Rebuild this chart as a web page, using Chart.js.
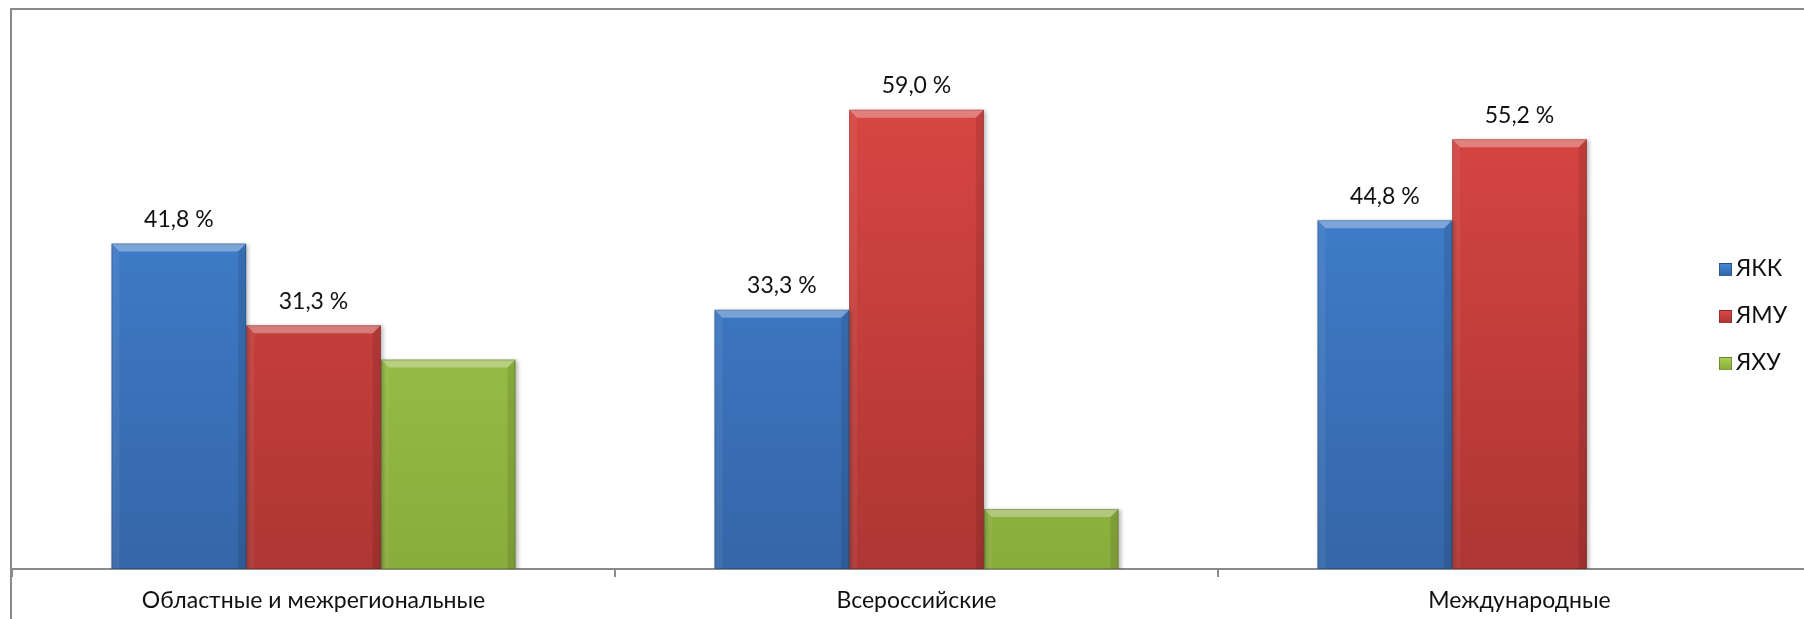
<!DOCTYPE html>
<html>
<head>
<meta charset="utf-8">
<script src="https://cdn.jsdelivr.net/npm/chart.js@4.4.1/dist/chart.umd.min.js"></script>
<style>
  html, body { margin: 0; padding: 0; background: #fff; overflow: hidden; }
  body { width: 1804px; height: 619px; position: relative; }
  #frame { position: absolute; left: 10px; top: 8px; width: 1900px; height: 700px;
           border-left: 2px solid #8a8a8a; border-top: 2px solid #8a8a8a; }
  #wrap { position: absolute; left: 0; top: 0; width: 1830px; height: 619px; }
  #legend { position: absolute; left: 1719px; top: 250px; font-family: Lato, "Noto Sans", sans-serif;
            font-size: 23px; color: #111; }
  #legend div { height: 47px; line-height: 34px; white-space: nowrap; }
  #legend span.box { display: inline-block; width: 13px; height: 13px; margin-right: 4px;
                     vertical-align: 0px; border: 1px solid rgba(0,0,0,0.25); box-sizing: border-box; }
</style>
</head>
<body>
<div id="frame"></div>
<div id="wrap"><canvas id="chart" width="1830" height="619"></canvas></div>
<div id="legend"></div>
<script>
// data
const categories = ['Областные и межрегиональные', 'Всероссийские', 'Международные'];
const seriesNames = ['ЯКК', 'ЯМУ', 'ЯХУ'];
const valuesYKK = [41.8, 33.3, 44.8];
const valuesYMU = [31.3, 59.0, 55.2];
const valuesYXU = [26.9, 7.7, null];
const showLabels = [true, true, false];

// colours: [top, bottom] of each bar face
const colorsTop = ['#4487da', '#de4845', '#a9d14f'];
const colorsBottom = ['#3566a8', '#ae3634', '#8aac3c'];

function faceGradient(i) {
  return (ctx) => {
    const area = ctx.chart.chartArea;
    if (!area) return colorsTop[i];
    const g = ctx.chart.ctx.createLinearGradient(0, area.top, 0, area.bottom);
    g.addColorStop(0, colorsTop[i]);
    g.addColorStop(1, colorsBottom[i]);
    return g;
  };
}

const allValues = [valuesYKK, valuesYMU, valuesYXU];
const datasets = allValues.map((vals, i) => ({
  label: seriesNames[i],
  data: vals,
  backgroundColor: faceGradient(i),
  borderWidth: 0,
  categoryPercentage: 0.67,
  barPercentage: 1.0
}));

// bevel + shadow look of the bars
const bevelBars = {
  id: 'bevelBars',
  beforeDatasetsDraw(chart) {
    const ctx = chart.ctx;
    ctx.save();
    ctx.shadowColor = 'rgba(0,0,0,0.28)';
    ctx.shadowBlur = 4;
    ctx.shadowOffsetX = 2;
    ctx.shadowOffsetY = 1;
  },
  afterDatasetsDraw(chart) {
    const ctx = chart.ctx;
    ctx.restore();
    ctx.save();
    chart.data.datasets.forEach((ds, di) => {
      chart.getDatasetMeta(di).data.forEach((bar, j) => {
        if (ds.data[j] == null) return;
        const { x, y, base, width } = bar.getProps(['x', 'y', 'base', 'width'], true);
        const l = x - width / 2, r = x + width / 2, t = y, b = base;
        const bv = 8;
        // top
        ctx.beginPath();
        ctx.moveTo(l, t); ctx.lineTo(r, t); ctx.lineTo(r - bv, t + bv); ctx.lineTo(l + bv, t + bv); ctx.closePath();
        ctx.fillStyle = 'rgba(255,255,255,0.32)';
        ctx.fill();
        // left
        ctx.beginPath();
        ctx.moveTo(l, t); ctx.lineTo(l + bv, t + bv); ctx.lineTo(l + bv, b); ctx.lineTo(l, b); ctx.closePath();
        ctx.fillStyle = 'rgba(255,255,255,0.06)';
        ctx.fill();
        // right
        ctx.beginPath();
        ctx.moveTo(r, t); ctx.lineTo(r - bv, t + bv); ctx.lineTo(r - bv, b); ctx.lineTo(r, b); ctx.closePath();
        ctx.fillStyle = 'rgba(0,0,0,0.10)';
        ctx.fill();
        // outline
        ctx.strokeStyle = 'rgba(0,0,0,0.18)';
        ctx.lineWidth = 1;
        ctx.strokeRect(l + 0.5, t + 0.5, width - 1, b - t - 1);
      });
    });
    ctx.restore();
  }
};

// value labels above bars
const valueLabels = {
  id: 'valueLabels',
  afterDatasetsDraw(chart) {
    const ctx = chart.ctx;
    ctx.save();
    ctx.font = '23px Lato, "Noto Sans", sans-serif';
    ctx.fillStyle = '#111';
    ctx.textAlign = 'center';
    ctx.textBaseline = 'middle';
    chart.data.datasets.forEach((ds, di) => {
      if (!showLabels[di]) return;
      chart.getDatasetMeta(di).data.forEach((bar, j) => {
        const v = ds.data[j];
        if (v == null) return;
        ctx.fillText(v.toFixed(1).replace('.', ',') + ' %', bar.x, bar.y - 24);
      });
    });
    ctx.restore();
  }
};

const chart = new Chart(document.getElementById('chart'), {
  type: 'bar',
  data: { labels: categories, datasets },
  options: {
    responsive: false,
    animation: false,
    layout: { padding: { left: 12, right: 9, top: 24, bottom: 0 } },
    plugins: { legend: { display: false }, tooltip: { enabled: false } },
    scales: {
      y: { display: false, min: 0, max: 70 },
      x: {
        offset: true,
        grid: { display: true, offset: true, drawOnChartArea: false, drawTicks: true,
                tickLength: 8, color: '#8a8a8a', lineWidth: 2 },
        border: { display: true, color: '#8a8a8a', width: 2 },
        ticks: { color: '#111', padding: 10, font: { family: 'Lato', size: 23 } },
        afterFit(scale) { scale.height = 50; }
      }
    }
  },
  plugins: [bevelBars, valueLabels]
});

// legend
const legend = document.getElementById('legend');
seriesNames.forEach((name, i) => {
  const row = document.createElement('div');
  const box = document.createElement('span');
  box.className = 'box';
  box.style.background = 'linear-gradient(' + colorsTop[i] + ',' + colorsBottom[i] + ')';
  row.appendChild(box);
  row.appendChild(document.createTextNode(name));
  legend.appendChild(row);
});
</script>
</body>
</html>
